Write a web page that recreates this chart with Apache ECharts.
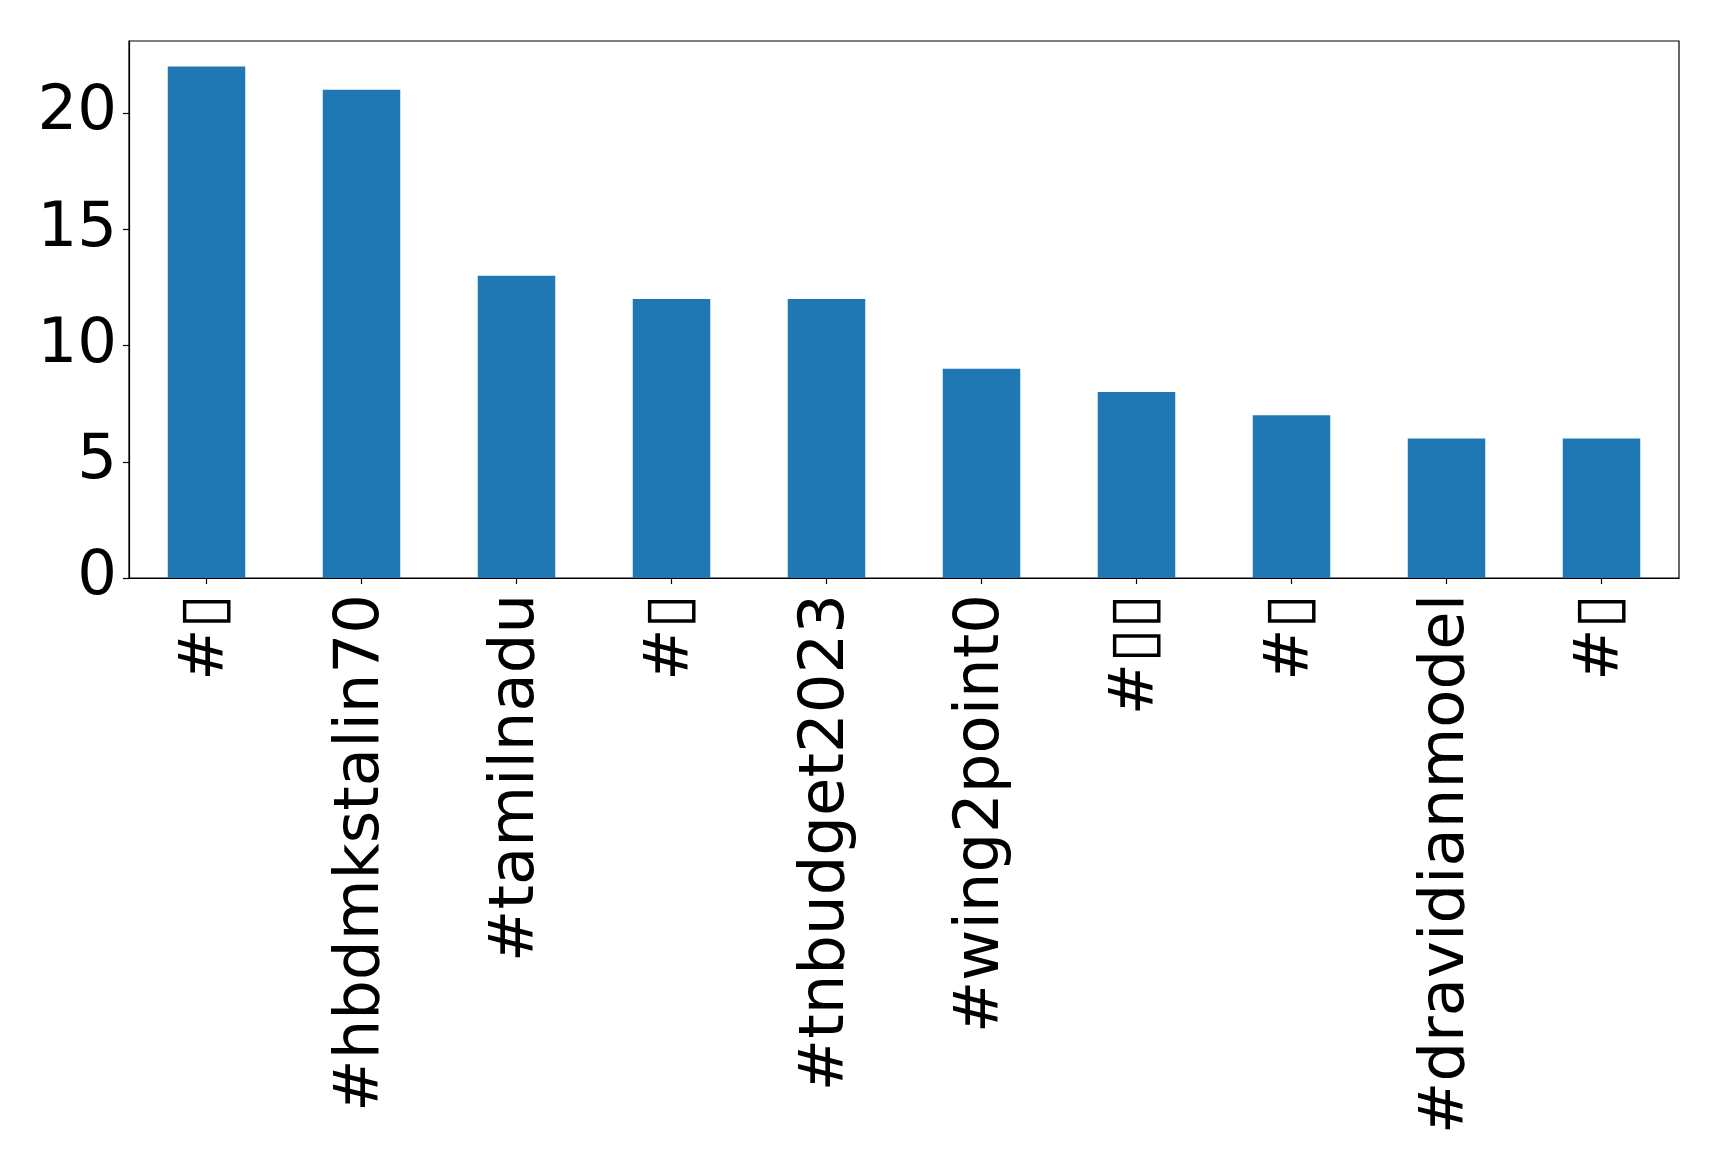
<!DOCTYPE html>
<html>
<head>
<meta charset="utf-8">
<script src="https://cdn.jsdelivr.net/npm/echarts@6/dist/echarts.min.js"></script>
<style>
html,body{margin:0;padding:0;background:#fff;}
#chart{width:1719px;height:1168px;}
</style>
</head>
<body>
<div id="chart"></div>
<script>
const categories = ['#\u25AF', '#hbdmkstalin70', '#tamilnadu', '#\u25AF', '#tnbudget2023', '#wing2point0', '#\u25AF\u25AF', '#\u25AF', '#dravidianmodel', '#\u25AF'];
const counts = [22, 21, 13, 12, 12, 9, 8, 7, 6, 6];
const yMax = 23.1;
const yInterval = 5;

const chart = echarts.init(document.getElementById('chart'), null, {renderer: 'canvas'});
chart.setOption({
  animation: false,
  grid: {
    left: 129, right: 40, top: 41, bottom: 590,
    show: true, borderColor: '#000', borderWidth: 1.2, backgroundColor: 'transparent'
  },
  xAxis: {
    type: 'category',
    data: categories,
    axisLine: {show: true, lineStyle: {color: '#000', width: 1.2}},
    axisTick: {show: true, alignWithLabel: true, length: 6, lineStyle: {color: '#000', width: 1.2}},
    axisLabel: {
      rotate: 90, interval: 0, margin: 16,
      fontFamily: 'DejaVu Sans', fontSize: 62.5, color: '#000'
    },
    splitLine: {show: false}
  },
  yAxis: {
    type: 'value',
    min: 0, max: yMax, interval: yInterval,
    axisLine: {show: true, lineStyle: {color: '#000', width: 1.2}},
    axisTick: {show: true, length: 6, lineStyle: {color: '#000', width: 1.2}},
    axisLabel: {
      margin: 12, showMaxLabel: false,
      fontFamily: 'DejaVu Sans', fontSize: 62.5, color: '#000'
    },
    splitLine: {show: false}
  },
  series: [{
    type: 'bar',
    data: counts,
    barWidth: '50%',
    itemStyle: {color: '#1f77b4'}
  }]
});
</script>
</body>
</html>
